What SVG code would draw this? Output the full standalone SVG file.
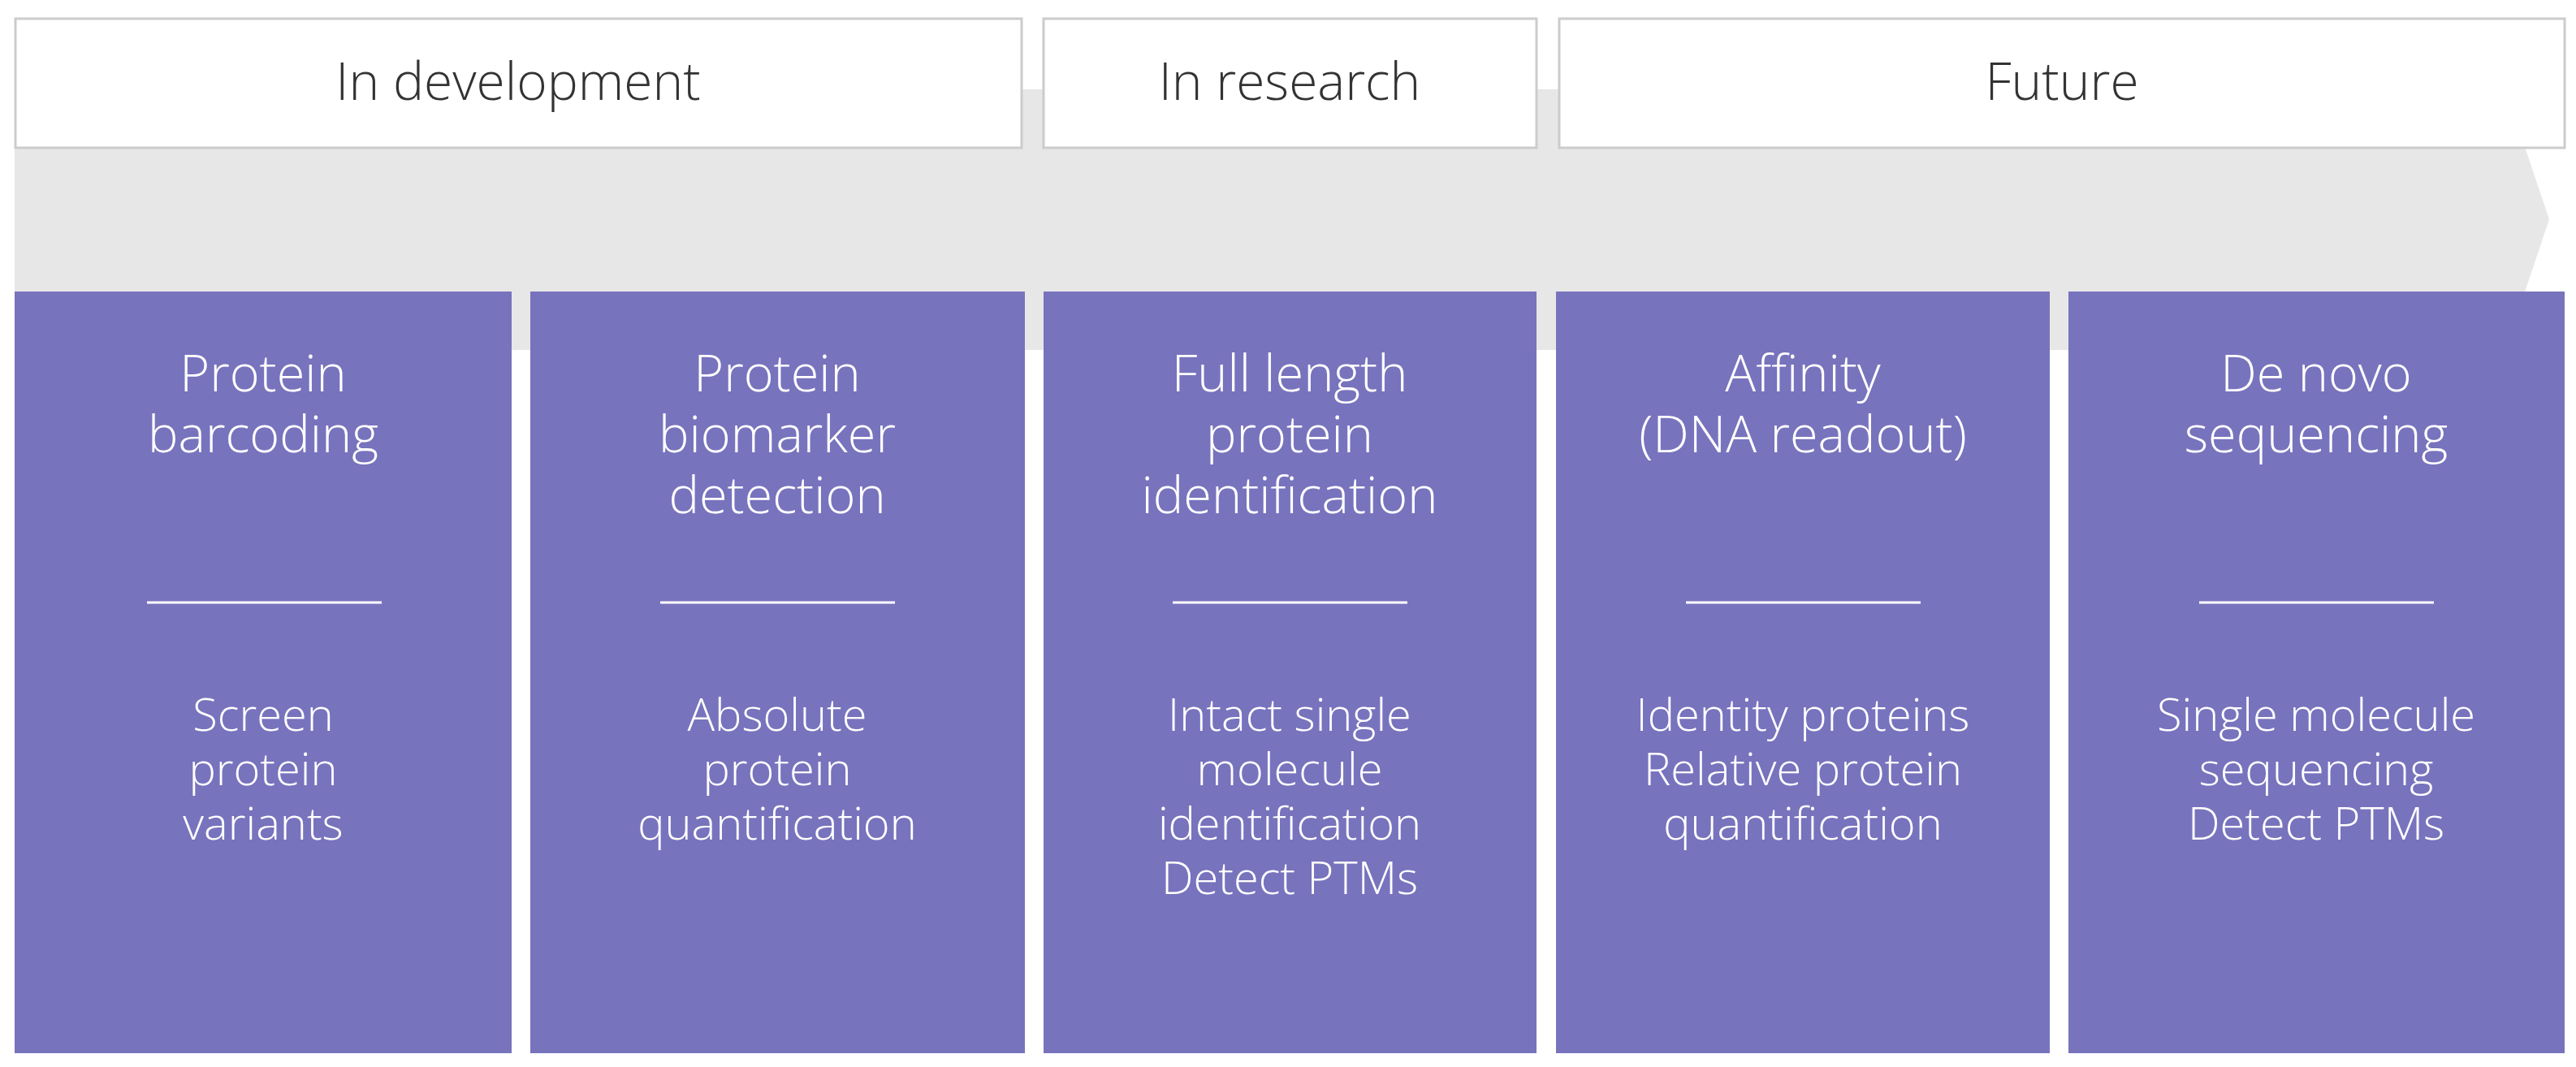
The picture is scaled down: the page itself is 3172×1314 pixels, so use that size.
<svg xmlns="http://www.w3.org/2000/svg" width="3172" height="1314" viewBox="0 0 3172 1314">
<style>
.hdr{fill:#fff;stroke:#cccccc;stroke-width:3}
.ht{font-family:"Open Sans","Noto Sans",sans-serif;font-weight:300;font-size:64px;fill:#333;text-anchor:middle}
.card{fill:#7873bd}
.tt{font-family:"Open Sans","Noto Sans",sans-serif;font-weight:300;font-size:63px;fill:#fff;text-anchor:middle}
.bt{font-family:"Open Sans","Noto Sans",sans-serif;font-weight:300;font-size:56px;fill:#fff;text-anchor:middle}
.div{stroke:#fff;stroke-width:3}
</style>
<rect width="3172" height="1314" fill="#fff"/>
<polygon id="band" points="18,110 3085,110 3139,270 3085,431 18,431" fill="#e7e7e7"/>
<g id="h1"><rect class="hdr" x="19" y="23" width="1239" height="159"/><text class="ht" x="638" y="123">In development</text></g>
<g id="h2"><rect class="hdr" x="1285" y="23" width="607" height="159"/><text class="ht" x="1588" y="123">In research</text></g>
<g id="h3"><rect class="hdr" x="1920" y="23" width="1238" height="159"/><text class="ht" x="2539" y="123">Future</text></g>
<g id="c1"><rect class="card" x="18" y="359" width="612" height="938"/>
<text class="tt" x="324" y="482">Protein</text><text class="tt" x="324" y="557">barcoding</text>
<line class="div" x1="181" y1="742" x2="470" y2="742"/>
<text class="bt" x="324" y="900">Screen</text><text class="bt" x="324" y="967">protein</text><text class="bt" x="324" y="1034">variants</text></g>
<g id="c2"><rect class="card" x="653" y="359" width="609" height="938"/>
<text class="tt" x="957" y="482">Protein</text><text class="tt" x="957" y="557">biomarker</text><text class="tt" x="957" y="632">detection</text>
<line class="div" x1="813" y1="742" x2="1102" y2="742"/>
<text class="bt" x="957" y="900">Absolute</text><text class="bt" x="957" y="967">protein</text><text class="bt" x="957" y="1034">quantification</text></g>
<g id="c3"><rect class="card" x="1285" y="359" width="607" height="938"/>
<text class="tt" x="1588" y="482">Full length</text><text class="tt" x="1588" y="557">protein</text><text class="tt" x="1588" y="632">identification</text>
<line class="div" x1="1444" y1="742" x2="1733" y2="742"/>
<text class="bt" x="1588" y="900">Intact single</text><text class="bt" x="1588" y="967">molecule</text><text class="bt" x="1588" y="1034">identification</text><text class="bt" x="1588" y="1101">Detect PTMs</text></g>
<g id="c4"><rect class="card" x="1916" y="359" width="608" height="938"/>
<text class="tt" x="2220" y="482">Affinity</text><text class="tt" x="2220" y="557">(DNA readout)</text>
<line class="div" x1="2076" y1="742" x2="2365" y2="742"/>
<text class="bt" x="2220" y="900">Identity proteins</text><text class="bt" x="2220" y="967">Relative protein</text><text class="bt" x="2220" y="1034">quantification</text></g>
<g id="c5"><rect class="card" x="2547" y="359" width="611" height="938"/>
<text class="tt" x="2852" y="482">De novo</text><text class="tt" x="2852" y="557">sequencing</text>
<line class="div" x1="2708" y1="742" x2="2997" y2="742"/>
<text class="bt" x="2852" y="900">Single molecule</text><text class="bt" x="2852" y="967">sequencing</text><text class="bt" x="2852" y="1034">Detect PTMs</text></g>
<g id="connectors"/>
</svg>
